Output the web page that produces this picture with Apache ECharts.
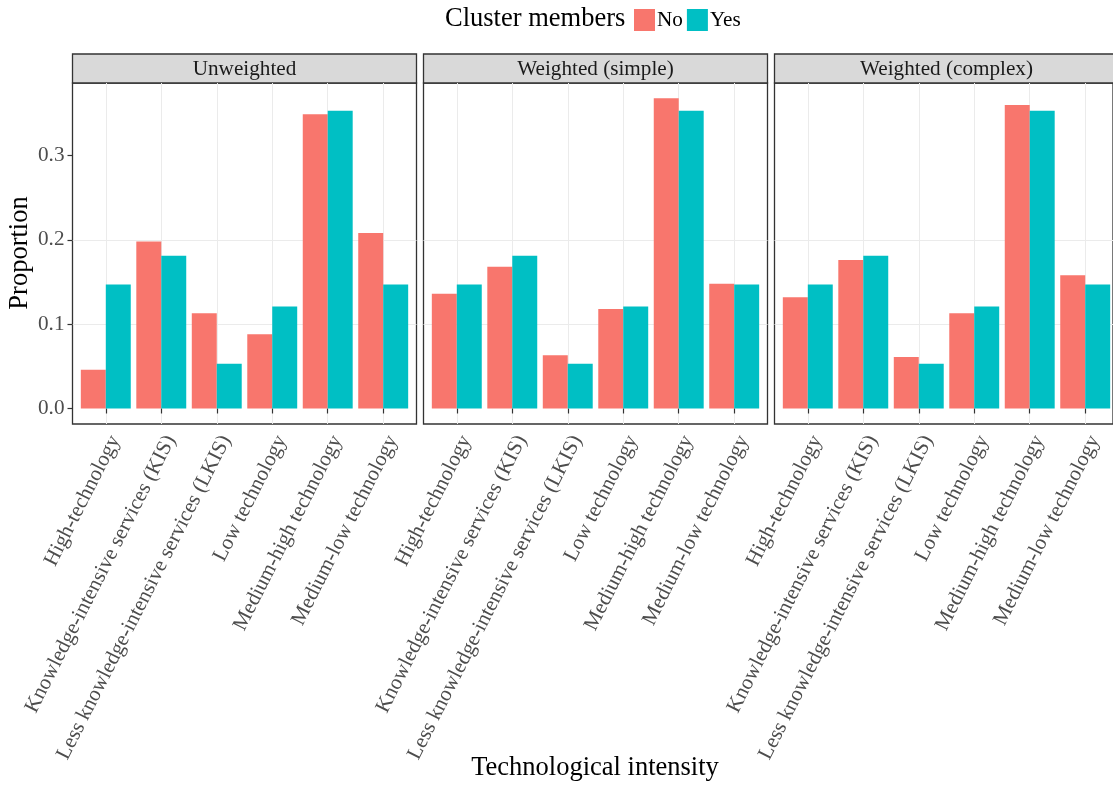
<!DOCTYPE html>
<html>
<head>
<meta charset="utf-8">
<script src="https://cdn.jsdelivr.net/npm/echarts@6/dist/echarts.min.js"></script>
<style>
html,body{margin:0;padding:0;background:#fff;}
#chart{width:1113px;height:785px;}
</style>
</head>
<body>
<div id="chart"></div>
<script>
// ---- data ----
const categories = [
  'High-technology',
  'Knowledge-intensive services (KIS)',
  'Less knowledge-intensive services (LKIS)',
  'Low technology',
  'Medium-high technology',
  'Medium-low technology'
];
const panels = ['Unweighted', 'Weighted (simple)', 'Weighted (complex)'];
const seriesNames = ['No', 'Yes'];
const noUnweighted = [0.046, 0.198, 0.113, 0.088, 0.349, 0.208];
const yesUnweighted = [0.147, 0.181, 0.053, 0.121, 0.353, 0.147];
const noSimple = [0.136, 0.168, 0.063, 0.118, 0.368, 0.148];
const yesSimple = [0.147, 0.181, 0.053, 0.121, 0.353, 0.147];
const noComplex = [0.132, 0.176, 0.061, 0.113, 0.360, 0.158];
const yesComplex = [0.147, 0.181, 0.053, 0.121, 0.353, 0.147];
const yTickLabels = [0, 0.1, 0.2, 0.3];
const yMin = -0.0184, yMax = 0.386;
const xTitle = 'Technological intensity';
const yTitle = 'Proportion';
const legendTitle = 'Cluster members';

const panelData = [[noUnweighted, yesUnweighted], [noSimple, yesSimple], [noComplex, yesComplex]];

// ---- layout / style ----
const FONT = "'Liberation Serif', 'Times New Roman', serif";
const SMALL = 21.2, BIG = 26.5;
const colors = ['#F8766D', '#00BFC4'];
const panelLefts = [72.5, 423.5, 774.5];
const panelW = 344;
const panelTop = 83;
const panelH = 341;
const stripTop = 54;
const unit = panelW / 6.2;

const grids = [], xAxes = [], yAxes = [], series = [], graphics = [];

panelLefts.forEach((L, p) => {
  grids.push({left: L, top: panelTop, width: panelW, height: panelH, show: true,
    borderColor: '#333333', borderWidth: 1.3, backgroundColor: 'transparent', containLabel: false});
});
panelLefts.forEach((L, p) => {
  grids.push({left: L + 0.1 * unit, top: panelTop, width: 6 * unit, height: panelH, containLabel: false});
});

panelLefts.forEach((L, p) => {
  xAxes.push({gridIndex: p, type: 'value', min: 0, max: 1, show: false});
  yAxes.push({
    gridIndex: p, type: 'value', min: yMin, max: yMax, splitNumber: 8,
    axisLine: {show: false},
    axisTick: {show: p === 0, length: 5, customValues: yTickLabels, lineStyle: {color: '#333333', width: 1.2}},
    axisLabel: {show: p === 0, customValues: yTickLabels, margin: 8, fontSize: SMALL, fontFamily: FONT, color: '#4D4D4D',
      formatter: v => Number(v).toFixed(1)},
    splitLine: {show: true, showMinLine: false, showMaxLine: false, lineStyle: {color: '#EBEBEB', width: 1}}
  });
});
panelLefts.forEach((L, p) => {
  xAxes.push({
    gridIndex: 3 + p, type: 'category', data: categories,
    axisLine: {show: false},
    axisTick: {show: true, alignWithLabel: true, length: 5, lineStyle: {color: '#333333', width: 1.2}},
    axisLabel: {interval: 0, rotate: 63, margin: 8, fontSize: SMALL, fontFamily: FONT, color: '#4D4D4D', verticalAlign: 'top'},
    splitLine: {show: true, alignWithLabel: true, lineStyle: {color: '#EBEBEB', width: 1}}
  });
  yAxes.push({gridIndex: 3 + p, type: 'value', min: yMin, max: yMax, show: false});
});

panelData.forEach((pair, p) => {
  pair.forEach((vals, s) => {
    series.push({
      type: 'bar', name: seriesNames[s], xAxisIndex: 3 + p, yAxisIndex: 3 + p,
      data: vals, barGap: '0%', barCategoryGap: '10%',
      itemStyle: {color: colors[s]}, emphasis: {disabled: true}
    });
  });
  const L = panelLefts[p];
  graphics.push({type: 'rect', shape: {x: L, y: stripTop, width: panelW, height: panelTop - stripTop},
    style: {fill: '#D9D9D9', stroke: '#333333', lineWidth: 1.3}, silent: true});
  graphics.push({type: 'text', x: L + panelW / 2, y: (stripTop + panelTop) / 2 + 1,
    style: {text: panels[p], font: SMALL + 'px ' + FONT, fill: '#1A1A1A', align: 'center', verticalAlign: 'middle'}, silent: true});
});

graphics.push({type: 'text', x: 595, y: 768,
  style: {text: xTitle, font: BIG + 'px ' + FONT, fill: '#000', align: 'center', verticalAlign: 'middle'}, silent: true});
graphics.push({type: 'text', x: 20, y: 253, rotation: Math.PI / 2,
  style: {text: yTitle, font: BIG + 'px ' + FONT, fill: '#000', align: 'center', verticalAlign: 'middle'}, silent: true});
graphics.push({type: 'text', x: 445, y: 19,
  style: {text: legendTitle, font: BIG + 'px ' + FONT, fill: '#000', align: 'left', verticalAlign: 'middle'}, silent: true});

const option = {
  animation: false,
  backgroundColor: '#ffffff',
  grid: grids,
  xAxis: xAxes,
  yAxis: yAxes,
  series: series,
  legend: {
    data: seriesNames, left: 634, top: 9, padding: 0, itemWidth: 21, itemHeight: 22, itemGap: 4,
    icon: 'rect', selectedMode: false,
    textStyle: {fontSize: SMALL, fontFamily: FONT, color: '#000', padding: [0, 0, 0, -3]}
  },
  graphic: graphics
};

const chart = echarts.init(document.getElementById('chart'), null, {renderer: 'canvas'});
chart.setOption(option);
</script>
</body>
</html>
